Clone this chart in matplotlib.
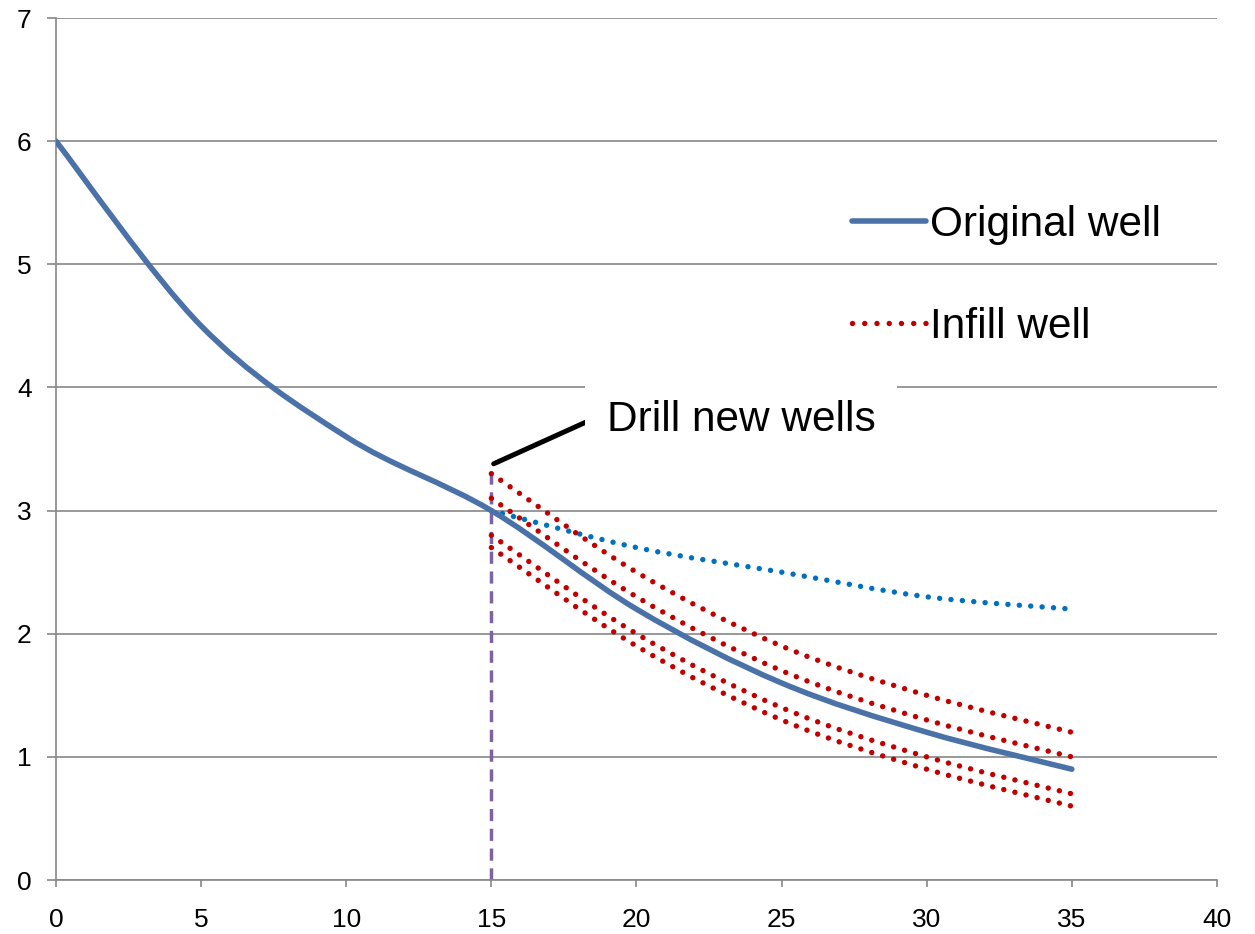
"""
Decline curves: original well vs. infill wells drilled at year 15.
"""
import matplotlib
matplotlib.use("Agg")
import matplotlib.pyplot as plt
from matplotlib.path import Path
from matplotlib.patches import PathPatch
from matplotlib.lines import Line2D

plt.rcParams["font.family"] = ["Liberation Sans", "DejaVu Sans"]

# production history of the original well
years = [0, 5, 10, 15, 20, 25, 30, 35]
original = [6.0, 4.5, 3.6, 3.0, 2.2, 1.6, 1.2, 0.9]

# forecasts after drilling
infill_years = [15, 20, 25, 30, 35]
infill_a = [3.3, 2.5, 1.9, 1.5, 1.2]
infill_b = [3.1, 2.3, 1.7, 1.3, 1.0]
infill_c = [2.8, 2.0, 1.4, 1.0, 0.7]
infill_d = [2.7, 1.9, 1.3, 0.9, 0.6]
no_infill = [3.0, 2.7, 2.5, 2.3, 2.2]

drill_year = 15
drill_top = 3.3

GRID = "#888888"
BLUE = "#4A72A9"
RED = "#C00000"
LIGHT_BLUE = "#0070C0"
PURPLE = "#7E63A1"
DOT_LW = 3.9
DOTS = (0, (0.01, 2.1))


def smooth_path(xs, ys):
    """Bezier path through the points (Catmull-Rom style tangents)."""
    pts = list(zip(xs, ys))
    n = len(pts)
    verts = [pts[0]]
    codes = [Path.MOVETO]
    for i in range(n - 1):
        p0 = pts[i - 1] if i > 0 else pts[i]
        p1 = pts[i]
        p2 = pts[i + 1]
        p3 = pts[i + 2] if i + 2 < n else pts[i + 1]
        c1 = (p1[0] + (p2[0] - p0[0]) / 6, p1[1] + (p2[1] - p0[1]) / 6)
        c2 = (p2[0] - (p3[0] - p1[0]) / 6, p2[1] - (p3[1] - p1[1]) / 6)
        verts += [c1, c2, p2]
        codes += [Path.CURVE4] * 3
    return Path(verts, codes)


def add_curve(ax, xs, ys, color, lw, ls="-", z=3):
    patch = PathPatch(smooth_path(xs, ys), fill=False, edgecolor=color,
                      linewidth=lw, linestyle=ls, capstyle="round",
                      joinstyle="round", zorder=z)
    ax.add_patch(patch)


fig = plt.figure(figsize=(12.55, 9.34), dpi=100)
ax = fig.add_axes([0.0446, 0.0578, 0.9251, 0.9229])

ax.set_xlim(0, 40)
ax.set_ylim(0, 7)
ax.set_xticks(range(0, 41, 5))
ax.set_yticks(range(0, 8))

ax.yaxis.grid(True, color=GRID, linewidth=1.2)
ax.set_axisbelow(True)
for side in ("top", "right"):
    ax.spines[side].set_visible(False)
for side in ("left", "bottom"):
    ax.spines[side].set_color(GRID)
    ax.spines[side].set_linewidth(1.2)
ax.tick_params(axis="x", direction="out", length=5, width=1.2, color=GRID,
               labelsize=19, pad=15.5)
ax.tick_params(axis="y", direction="out", length=6.5, width=1.2, color=GRID,
               labelsize=19, pad=11)

ax.vlines(drill_year, 0, drill_top, colors=PURPLE, linewidth=2.5,
          linestyles=(0, (3.5, 2.2)), zorder=2)

add_curve(ax, infill_years, no_infill, LIGHT_BLUE, DOT_LW, DOTS)
for series in (infill_a, infill_b, infill_c, infill_d):
    add_curve(ax, infill_years, series, RED, DOT_LW, DOTS)
add_curve(ax, years, original, BLUE, 4.0, "-", z=4)

ax.annotate("Drill new wells", xy=(drill_year + 0.08, 3.38), xytext=(23.6, 3.65),
            ha="center", va="baseline", fontsize=30.5, zorder=5,
            bbox=dict(boxstyle="square,pad=0.5", fc="white", ec="none"),
            arrowprops=dict(arrowstyle="-", color="black", lw=3.6,
                            relpos=(0.01, 0.7), shrinkA=0, shrinkB=0))

handles = [
    Line2D([], [], color=BLUE, linewidth=4.0, solid_capstyle="round"),
    Line2D([], [], color=RED, linewidth=DOT_LW, linestyle=(0, (0.01, 2.25)),
           dash_capstyle="round"),
]
ax.legend(handles, ["Original well", "Infill well"], loc="upper left",
          bbox_to_anchor=(0.6856, 0.783), frameon=False, fontsize=30.5,
          borderpad=0, borderaxespad=0, handlelength=1.75, handletextpad=0.1,
          labelspacing=1.46)

fig.savefig("out.png", dpi=100, facecolor="white")
